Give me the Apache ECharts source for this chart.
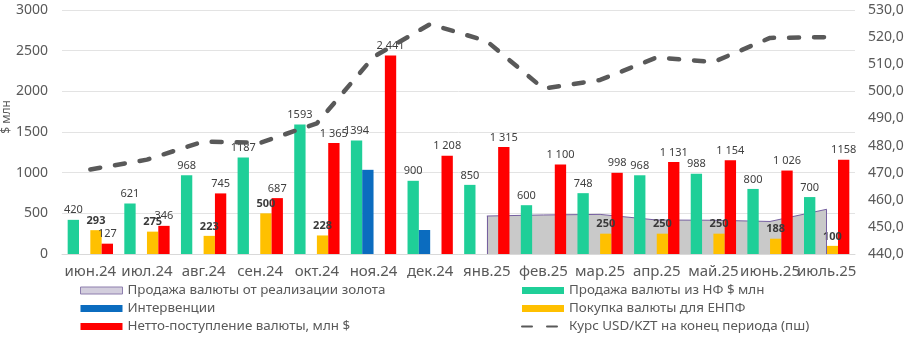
<!DOCTYPE html>
<html>
<head>
<meta charset="utf-8">
<script src="https://cdn.jsdelivr.net/npm/echarts@6/dist/echarts.min.js"></script>
<style>
  html, body { margin: 0; padding: 0; background: #fff; }
  #chart { width: 910px; height: 347px; }
</style>
</head>
<body>
<div id="chart"></div>
<script>
// Monthly categories
const categories = ['июн.24', 'июл.24', 'авг.24', 'сен.24', 'окт.24', 'ноя.24', 'дек.24',
  'янв.25', 'фев.25', 'мар.25', 'апр.25', 'май.25', 'июнь.25', 'июль.25'];

// $ mln, left axis
const nfSales = [420, 621, 968, 1187, 1593, 1394, 900, 850, 600, 748, 968, 988, 800, 700];
const interventions = [null, null, null, null, null, 1035, 295, null, null, null, null, null, null, null];
const enpfPurchases = [293, 275, 223, 500, 228, null, null, null, null, 250, 250, 250, 188, 100];
const netInflow = [127, 346, 745, 687, 1365, 2441, 1208, 1315, 1100, 998, 1131, 1154, 1026, 1158];
const goldSales = [null, null, null, null, null, null, null, 467, 480, 487, 418, 415, 400, 550];

// USD/KZT end of period, right axis
const usdKzt = [471.2, 474.8, 481.5, 481.0, 488.2, 512.7, 524.8, 518.5, 501.0, 504.2, 512.5, 510.8, 519.7, 520.0];

// Axis ranges
const leftAxis = { min: 0, max: 3000, interval: 500 };
const rightAxis = { min: 440, max: 530, interval: 10 };

const FONT = 'Noto Sans';
const AXIS_TEXT = '#595959';
const LABEL_TEXT = '#404040';

const spaced = v => {
  const s = String(v);
  return s.length > 3 ? s.slice(0, s.length - 3) + ' ' + s.slice(-3) : s;
};

const labelBase = {
  show: true,
  position: 'top',
  distance: 4,
  color: LABEL_TEXT,
  fontFamily: FONT,
  fontSize: 11
};

// vertical edges of the gold-sales area
const goldIdx = goldSales.map((v, i) => v == null ? -1 : i).filter(i => i >= 0);
const goldFirst = goldIdx[0], goldLast = goldIdx[goldIdx.length - 1];

const legendText = { color: AXIS_TEXT, fontSize: 13.4, fontFamily: FONT };

const chart = echarts.init(document.getElementById('chart'), null, { renderer: 'canvas' });

chart.setOption({
  animation: false,
  backgroundColor: '#fff',
  textStyle: { fontFamily: FONT },
  grid: { left: 62, right: 55, top: 10, bottom: 93, containLabel: false },
  legend: [
    {
      orient: 'vertical',
      left: 75, top: 279,
      itemWidth: 42, itemHeight: 7, itemGap: 5,
      textStyle: legendText,
      data: [
        { name: 'Продажа валюты от реализации золота', icon: 'rect',
          itemStyle: { color: '#D3CEDD', borderColor: '#8E7FAE', borderWidth: 1 } },
        { name: 'Интервенции', icon: 'rect' },
        { name: 'Нетто-поступление валюты, млн $', icon: 'rect' }
      ]
    },
    {
      orient: 'vertical',
      left: 516, top: 279,
      itemWidth: 42, itemHeight: 7, itemGap: 5,
      textStyle: legendText,
      data: [
        { name: 'Продажа валюты из НФ $ млн', icon: 'rect' },
        { name: 'Покупка валюты для ЕНПФ', icon: 'rect' },
        { name: 'Курс USD/KZT на конец периода (пш)', itemStyle: { opacity: 0 } }
      ]
    }
  ],
  xAxis: {
    type: 'category',
    data: categories,
    boundaryGap: true,
    axisLine: { show: true, lineStyle: { color: '#D9D9D9' } },
    axisTick: { show: false },
    axisLabel: { color: AXIS_TEXT, fontSize: 15, fontFamily: FONT, margin: 10, interval: 0 }
  },
  yAxis: [
    {
      type: 'value',
      min: leftAxis.min, max: leftAxis.max, interval: leftAxis.interval,
      axisLine: { show: false },
      axisTick: { show: false },
      splitLine: { lineStyle: { color: '#E3E3E3' } },
      axisLabel: { color: AXIS_TEXT, fontSize: 14, fontFamily: FONT, margin: 14, formatter: v => String(v) }
    },
    {
      type: 'value',
      min: rightAxis.min, max: rightAxis.max, interval: rightAxis.interval,
      position: 'right',
      axisLine: { show: false },
      axisTick: { show: false },
      splitLine: { show: false },
      axisLabel: {
        color: AXIS_TEXT, fontSize: 14, fontFamily: FONT, margin: 13,
        formatter: v => v.toFixed(1).replace('.', ',')
      }
    }
  ],
  graphic: [
    {
      type: 'text',
      x: 7, y: 117,
      rotation: Math.PI / 2,
      style: {
        text: '$ млн', fill: AXIS_TEXT, fontSize: 12, fontFamily: FONT,
        align: 'center', verticalAlign: 'middle'
      }
    }
  ],
  series: [
    {
      name: 'Продажа валюты от реализации золота',
      type: 'line',
      yAxisIndex: 0,
      data: goldSales,
      symbol: 'none',
      z: 1,
      lineStyle: { color: '#7660A0', width: 1 },
      itemStyle: { color: '#C9C9C9' },
      areaStyle: { color: '#C9C9C9', opacity: 1 },
      markLine: {
        silent: true,
        symbol: 'none',
        label: { show: false },
        lineStyle: { color: '#7660A0', width: 1, type: 'solid' },
        data: [
          [{ coord: [categories[goldFirst], 0] }, { coord: [categories[goldFirst], goldSales[goldFirst]] }],
          [{ coord: [categories[goldLast], 0] }, { coord: [categories[goldLast], goldSales[goldLast]] }]
        ]
      }
    },
    {
      name: 'Продажа валюты из НФ $ млн',
      type: 'bar',
      yAxisIndex: 0,
      data: nfSales,
      barGap: '0%',
      barCategoryGap: '20%',
      itemStyle: { color: '#1FCF98' },
      label: Object.assign({}, labelBase)
    },
    {
      name: 'Интервенции',
      type: 'bar',
      yAxisIndex: 0,
      data: interventions,
      barGap: '0%',
      barCategoryGap: '20%',
      itemStyle: { color: '#0B6CBF' }
    },
    {
      name: 'Покупка валюты для ЕНПФ',
      type: 'bar',
      yAxisIndex: 0,
      data: enpfPurchases,
      barGap: '0%',
      barCategoryGap: '20%',
      itemStyle: { color: '#FFC000' },
      label: Object.assign({}, labelBase, { fontWeight: 'bold', color: '#3A3A3A' })
    },
    {
      name: 'Нетто-поступление валюты, млн $',
      type: 'bar',
      yAxisIndex: 0,
      data: netInflow,
      barGap: '0%',
      barCategoryGap: '20%',
      itemStyle: { color: '#FF0000' },
      label: Object.assign({}, labelBase, {
        formatter: p => p.dataIndex === netInflow.length - 1 ? String(p.value) : spaced(p.value)
      })
    },
    {
      name: 'Курс USD/KZT на конец периода (пш)',
      type: 'line',
      yAxisIndex: 1,
      data: usdKzt,
      symbol: 'none',
      z: 5,
      lineStyle: { color: '#595959', width: 4.5, type: [10, 15], cap: 'round', join: 'round' },
      itemStyle: { color: '#595959' }
    }
  ]
});
</script>
</body>
</html>
